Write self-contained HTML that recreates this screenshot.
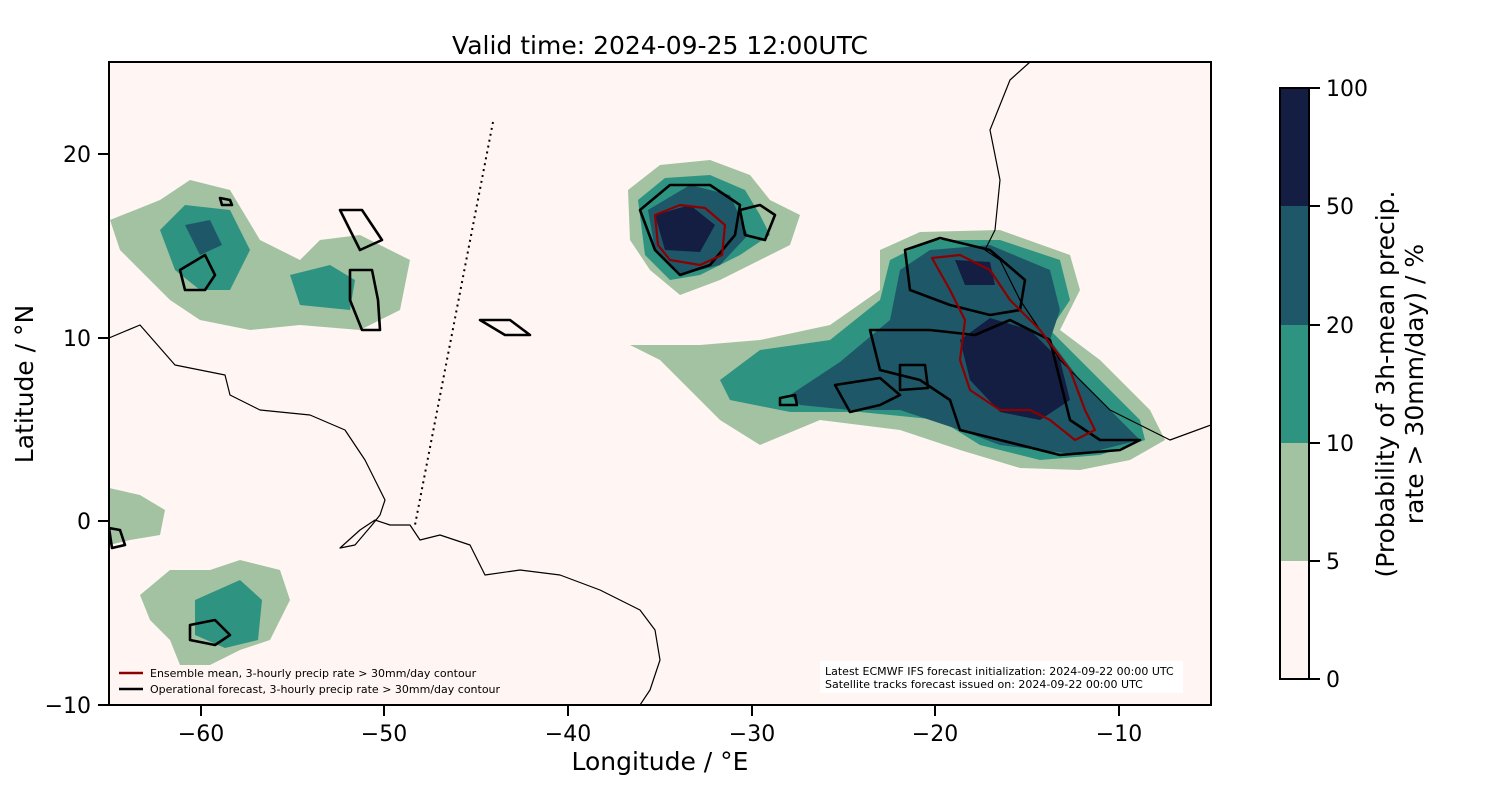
<!DOCTYPE html>
<html><head><meta charset="utf-8"><style>
body{margin:0;background:#fff;}
svg{display:block;font-family:"DejaVu Sans","Liberation Sans",sans-serif;}
</style></head><body>
<svg width="1500" height="800" viewBox="0 0 1500 800">
<defs><clipPath id="c"><rect x="109" y="62" width="1102" height="643"/></clipPath></defs>
<rect x="109" y="62" width="1102" height="643" fill="#fff5f3"/>
<g clip-path="url(#c)" stroke-linejoin="round">
<path fill="#a3c2a2" d="M630,345 L700,345 760,340 830,325 880,290 880,250 920,232 1000,230 1070,255 1080,290 1060,330 1100,360 1150,410 1165,440 1130,460 1080,470 1020,468 960,450 900,430 820,420 760,445 720,420 690,390 660,360Z"/>
<path fill="#2e9381" d="M720,380 L760,350 830,340 880,300 890,260 930,240 1000,240 1060,260 1070,300 1050,330 1090,370 1140,420 1145,440 1100,455 1040,460 980,445 940,420 860,412 790,412 730,400Z"/>
<path fill="#1e5868" d="M790,395 L840,362 890,320 900,270 930,250 990,245 1050,270 1060,310 1050,340 1080,380 1120,420 1140,440 1080,455 1000,445 960,430 900,410 850,410 800,405Z"/>
<path fill="#141d42" d="M960,340 L990,318 1030,330 1060,360 1070,400 1040,420 1000,412 970,380Z M955,260 L990,262 995,285 965,285Z"/>
<path fill="#a3c2a2" d="M628,190 L660,165 710,160 750,175 770,200 800,215 790,245 760,260 720,280 680,295 650,270 630,240Z"/>
<path fill="#2e9381" d="M638,200 L665,178 710,175 745,190 760,215 770,235 740,255 700,275 670,280 645,255Z"/>
<path fill="#1e5868" d="M648,210 L690,185 730,195 748,235 720,265 680,275 655,250Z"/>
<path fill="#141d42" d="M655,215 L690,205 715,225 700,252 665,250Z"/>
<path fill="#a3c2a2" d="M110,220 L160,200 190,180 230,190 260,240 300,260 320,240 360,235 410,260 400,310 360,330 300,325 250,330 200,320 170,300 140,270 120,250Z"/>
<path fill="#2e9381" d="M160,230 L185,205 230,210 250,250 230,290 200,290 175,270Z M290,275 L330,265 355,280 350,310 300,305Z"/>
<path fill="#1e5868" d="M185,225 L210,220 222,245 200,255Z"/>
<path fill="#a3c2a2" d="M140,595 L170,570 210,570 240,560 280,570 290,600 270,640 240,650 210,665 180,665 170,640 150,620Z M109,488 L140,495 165,510 160,535 130,540 109,545Z"/>
<path fill="#2e9381" d="M195,600 L240,580 262,600 258,640 225,648 195,635Z"/>
<g fill="none" stroke="#000" stroke-width="1.2">
<path d="M109,338 L140,325 175,365 225,375 230,395 260,410 310,415 345,430 365,460 375,480 385,500 380,515 372,525 355,545 340,548 360,530 375,520 390,525 410,525 420,540 440,535 470,545 485,575 520,570 560,575 600,590 640,610 655,630 660,660 650,690 640,705"/>
<path d="M1030,62 L1010,80 990,130 1000,180 995,230 985,250 1000,260 1010,280 1020,300 1040,330 1060,360 1080,380 1110,410 1150,430 1170,440 1211,425"/>
</g>
<path d="M493,122 L415,525" stroke="#000" stroke-width="2" stroke-dasharray="2,4" fill="none"/>
<g fill="none" stroke="#000" stroke-width="2.6">
<path d="M640,210 L670,185 710,185 740,205 735,235 710,265 680,275 655,250Z"/>
<path d="M740,210 L760,205 775,215 765,240 745,235Z"/>
<path d="M905,250 L940,238 990,250 1025,280 1020,310 990,315 950,305 910,290Z"/>
<path d="M870,330 L930,330 975,335 1010,320 1050,340 1060,380 1070,420 1100,440 1140,440 1120,450 1060,455 1000,440 960,430 950,400 920,380 880,370Z"/>
<path d="M835,385 L880,378 900,395 880,405 850,412Z"/>
<path d="M780,398 L795,395 797,405 780,405Z"/>
<path d="M900,365 L925,365 928,388 900,390Z"/>
<path d="M480,320 L510,320 530,335 505,335Z"/>
<path d="M350,270 L372,270 378,300 380,330 362,330 350,300Z"/>
<path d="M340,210 L362,210 382,240 360,250 350,230Z"/>
<path d="M180,270 L205,255 215,275 205,290 185,290Z"/>
<path d="M190,625 L215,620 230,635 215,645 190,640Z"/>
<path d="M109,528 L120,530 125,545 112,548Z"/>
<path d="M220,198 L230,200 232,205 222,205Z"/>
</g>
<g fill="none" stroke="#8b0000" stroke-width="2.2">
<path d="M655,215 L680,205 705,208 725,225 722,255 700,265 670,260 658,245Z"/>
<path d="M932,258 L960,255 990,270 1010,300 1040,330 1070,370 1085,410 1095,430 1075,440 1050,420 1030,410 1000,410 970,390 960,360 965,320 950,290Z"/>
</g>
</g>
<rect x="109" y="62" width="1102" height="643" fill="none" stroke="#000" stroke-width="2"/>
<line x1="119" y1="673" x2="143" y2="673" stroke="#8b0000" stroke-width="2.5"/>
<line x1="119" y1="689" x2="143" y2="689" stroke="#000" stroke-width="2.5"/>
<text x="150" y="677" font-size="11">Ensemble mean, 3-hourly precip rate &gt; 30mm/day contour</text>
<text x="150" y="693" font-size="11">Operational forecast, 3-hourly precip rate &gt; 30mm/day contour</text>
<rect x="820" y="661" width="363" height="32" fill="#fff"/>
<text x="825" y="675" font-size="11">Latest ECMWF IFS forecast initialization: 2024-09-22 00:00 UTC</text>
<text x="825" y="688" font-size="11">Satellite tracks forecast issued on: 2024-09-22 00:00 UTC</text>
<g stroke="#000" stroke-width="2">
<line x1="201" y1="705" x2="201" y2="716"/><line x1="384" y1="705" x2="384" y2="716"/><line x1="568" y1="705" x2="568" y2="716"/><line x1="752" y1="705" x2="752" y2="716"/><line x1="935" y1="705" x2="935" y2="716"/><line x1="1119" y1="705" x2="1119" y2="716"/>
<line x1="98" y1="154" x2="109" y2="154"/><line x1="98" y1="338" x2="109" y2="338"/><line x1="98" y1="521" x2="109" y2="521"/><line x1="98" y1="705" x2="109" y2="705"/>
</g>
<g font-size="22" text-anchor="middle">
<text x="201" y="741">−60</text><text x="384" y="741">−50</text><text x="568" y="741">−40</text><text x="752" y="741">−30</text><text x="935" y="741">−20</text><text x="1119" y="741">−10</text>
</g>
<g font-size="22" text-anchor="end">
<text x="91" y="162">20</text><text x="91" y="346">10</text><text x="91" y="529">0</text><text x="91" y="713">−10</text>
</g>
<text x="660" y="770" font-size="25" text-anchor="middle">Longitude / °E</text>
<text transform="translate(33,384) rotate(-90)" font-size="25" text-anchor="middle">Latitude / °N</text>
<text x="660" y="54" font-size="25" text-anchor="middle">Valid time: 2024-09-25 12:00UTC</text>
<rect x="1280" y="88" width="29" height="118" fill="#141d42"/>
<rect x="1280" y="206" width="29" height="119" fill="#1e5868"/>
<rect x="1280" y="325" width="29" height="118" fill="#2e9381"/>
<rect x="1280" y="443" width="29" height="118" fill="#a3c2a2"/>
<rect x="1280" y="561" width="29" height="118" fill="#fff5f3"/>
<rect x="1280" y="88" width="29" height="591" fill="none" stroke="#000" stroke-width="2"/>
<g stroke="#000" stroke-width="2">
<line x1="1309" y1="88" x2="1320" y2="88"/><line x1="1309" y1="206" x2="1320" y2="206"/><line x1="1309" y1="325" x2="1320" y2="325"/><line x1="1309" y1="443" x2="1320" y2="443"/><line x1="1309" y1="561" x2="1320" y2="561"/><line x1="1309" y1="679" x2="1320" y2="679"/>
</g>
<g font-size="22">
<text x="1326" y="96">100</text><text x="1326" y="214">50</text><text x="1326" y="333">20</text><text x="1326" y="451">10</text><text x="1326" y="569">5</text><text x="1326" y="687">0</text>
</g>
<text transform="translate(1394,384) rotate(-90)" font-size="25" text-anchor="middle">(Probability of 3h-mean precip.</text>
<text transform="translate(1423,384) rotate(-90)" font-size="25" text-anchor="middle">rate &gt; 30mm/day) / %</text>
</svg>
</body></html>
